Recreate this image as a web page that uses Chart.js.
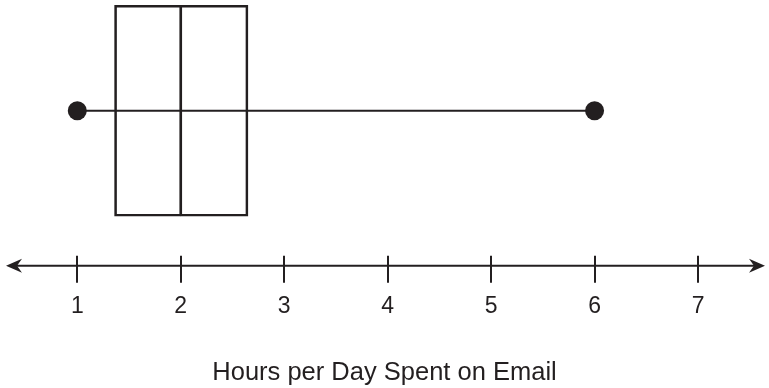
<!DOCTYPE html>
<html>
<head>
<meta charset="utf-8">
<script src="https://cdn.jsdelivr.net/npm/chart.js@4/dist/chart.umd.min.js"></script>
<style>
  html, body { margin: 0; padding: 0; background: #fff; }
  canvas { display: block; }
</style>
</head>
<body>
<canvas id="chart" width="769" height="388"></canvas>
<script>
// five-number summary (hours per day)
const minValue = 1;
const q1Value = 1.36;
const medianValue = 2;
const q3Value = 2.65;
const maxValue = 6;
const tickValues = [1, 2, 3, 4, 5, 6, 7];
const axisTitle = 'Hours per Day Spent on Email';

const ink = '#231f20';
const fontFamily = '"Liberation Sans", Arial, Helvetica, sans-serif';
const rowY = 7; // where the plot sits on the hidden y scale

// number line with arrows on both ends + tick marks crossing it
const numberLine = {
  id: 'numberLine',
  afterDraw(chart) {
    const ctx = chart.ctx;
    const xs = chart.scales.x;
    const y = chart.chartArea.bottom;
    const left = 6, right = chart.width - 4;

    ctx.save();
    ctx.strokeStyle = ink;
    ctx.fillStyle = ink;
    ctx.lineWidth = 2;

    ctx.beginPath();
    ctx.moveTo(left + 8, y);
    ctx.lineTo(right - 8, y);
    ctx.stroke();

    // left arrow head
    ctx.beginPath();
    ctx.moveTo(left, y);
    ctx.lineTo(left + 16, y - 7);
    ctx.lineTo(left + 11, y);
    ctx.lineTo(left + 16, y + 7);
    ctx.closePath();
    ctx.fill();

    // right arrow head
    ctx.beginPath();
    ctx.moveTo(right, y);
    ctx.lineTo(right - 16, y - 7);
    ctx.lineTo(right - 11, y);
    ctx.lineTo(right - 16, y + 7);
    ctx.closePath();
    ctx.fill();

    tickValues.forEach(v => {
      const px = Math.round(xs.getPixelForValue(v));
      ctx.beginPath();
      ctx.moveTo(px, y - 10);
      ctx.lineTo(px, y + 17);
      ctx.stroke();
    });
    ctx.restore();
  }
};

new Chart(document.getElementById('chart'), {
  type: 'scatter',
  data: {
    datasets: [
      {
        // min and max dots
        type: 'scatter',
        data: [{x: minValue, y: rowY}, {x: maxValue, y: rowY}],
        pointRadius: 9.5,
        pointBackgroundColor: ink,
        pointBorderWidth: 0
      },
      {
        // whisker, runs straight through the box
        type: 'line',
        data: [{x: minValue, y: rowY}, {x: maxValue, y: rowY}],
        borderColor: ink,
        borderWidth: 2,
        pointRadius: 0,
        fill: false
      },
      {
        type: 'bar',
        indexAxis: 'y',
        grouped: false,
        data: [{x: [q1Value, medianValue], y: rowY}],
        barThickness: 211,
        backgroundColor: 'rgba(0,0,0,0)',
        borderColor: ink,
        borderWidth: {left: 2, top: 2, bottom: 2, right: 1},
        borderSkipped: false
      },
      {
        type: 'bar',
        indexAxis: 'y',
        grouped: false,
        data: [{x: [medianValue, q3Value], y: rowY}],
        barThickness: 211,
        backgroundColor: 'rgba(0,0,0,0)',
        borderColor: ink,
        borderWidth: {left: 1, top: 2, bottom: 2, right: 2},
        borderSkipped: false
      }
    ]
  },
  options: {
    responsive: false,
    animation: false,
    layout: {padding: 0, autoPadding: false},
    plugins: {
      legend: {display: false},
      tooltip: {enabled: false}
    },
    scales: {
      x: {
        type: 'linear',
        min: 0.253,
        max: 7.686,
        offset: false,
        beginAtZero: false,
        grid: {display: false, drawTicks: false},
        border: {display: false},
        ticks: {
          stepSize: 1,
          includeBounds: false,
          autoSkip: false,
          maxRotation: 0,
          padding: 27,
          color: ink,
          font: {family: fontFamily, size: 23}
        },
        title: {
          display: true,
          text: axisTitle,
          color: ink,
          font: {family: fontFamily, size: 25.5},
          padding: {top: 10, bottom: 0}
        }
      },
      y: {
        type: 'linear',
        display: false,
        min: 0,
        max: 12,
        offset: false
      }
    }
  },
  plugins: [numberLine]
});
</script>
</body>
</html>
